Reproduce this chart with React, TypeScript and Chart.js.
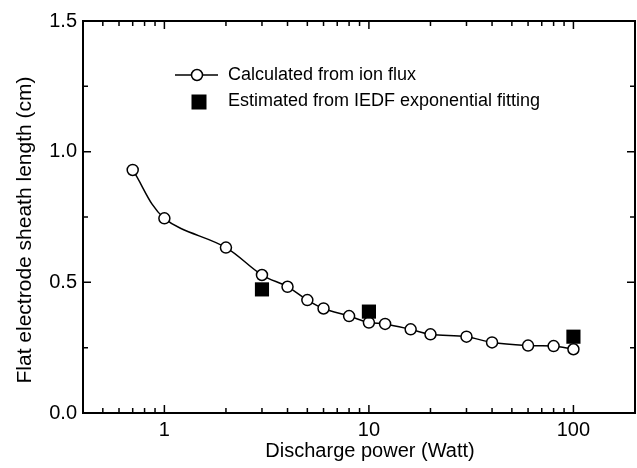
import { useEffect, useRef } from 'react';
import { Chart, registerables } from 'chart.js';

Chart.register(...registerables);

// ---- data ----
const power = [0.7, 1, 2, 3, 4, 5, 6, 8, 10, 12, 16, 20, 30, 40, 60, 80, 100];
const calculated = [0.93, 0.745, 0.633, 0.528, 0.483, 0.432, 0.4, 0.371, 0.346, 0.341, 0.32, 0.301, 0.292, 0.27, 0.258, 0.256, 0.244];
const estPower = [3, 10, 100];
const estimated = [0.473, 0.388, 0.292];

const xMajorTicks = [1, 10, 100];
const xMinorTicks = [0.5, 0.6, 0.7, 0.8, 0.9, 2, 3, 4, 5, 6, 7, 8, 9, 20, 30, 40, 50, 60, 70, 80, 90];
const yMajorTicks = [0.5, 1.0];
const yMinorTicks = [0.25, 0.75, 1.25];

const legendLabels = ['Calculated from ion flux', 'Estimated from IEDF exponential fitting'];
const xTitle = 'Discharge power (Watt)';
const yTitle = 'Flat electrode sheath length (cm)';

const FONT = '"Liberation Sans", Arial, Helvetica, sans-serif';

const framePlugin = {
  id: 'frameAndDecor',
  afterDraw(chart: any) {
    const { ctx, chartArea: a, scales } = chart;
    const xs = scales.x;
    const ys = scales.y;
    ctx.save();
    ctx.strokeStyle = '#000';
    ctx.fillStyle = '#000';

    // ticks
    ctx.lineWidth = 1.5;
    const drawX = (v: number, len: number) => {
      const px = xs.getPixelForValue(v);
      ctx.beginPath();
      ctx.moveTo(px, a.bottom);
      ctx.lineTo(px, a.bottom - len);
      ctx.moveTo(px, a.top);
      ctx.lineTo(px, a.top + len);
      ctx.stroke();
    };
    const drawY = (v: number, len: number) => {
      const py = ys.getPixelForValue(v);
      ctx.beginPath();
      ctx.moveTo(a.left, py);
      ctx.lineTo(a.left + len, py);
      ctx.moveTo(a.right, py);
      ctx.lineTo(a.right - len, py);
      ctx.stroke();
    };
    xMajorTicks.forEach((v) => drawX(v, 8));
    xMinorTicks.forEach((v) => drawX(v, 5));
    yMajorTicks.forEach((v) => drawY(v, 8));
    yMinorTicks.forEach((v) => drawY(v, 5));

    // frame
    ctx.lineWidth = 2;
    ctx.strokeRect(a.left, a.top, a.right - a.left, a.bottom - a.top);

    // axis titles
    ctx.textAlign = 'center';
    ctx.textBaseline = 'middle';
    ctx.font = `20px ${FONT}`;
    ctx.fillText(xTitle, 370, 451);
    ctx.save();
    ctx.translate(25, 230);
    ctx.rotate(-Math.PI / 2);
    ctx.font = `21px ${FONT}`;
    ctx.fillText(yTitle, 0, 0);
    ctx.restore();

    // legend
    ctx.lineWidth = 1.5;
    ctx.beginPath();
    ctx.moveTo(175, 75);
    ctx.lineTo(218, 75);
    ctx.stroke();
    ctx.beginPath();
    ctx.arc(197, 75, 5.5, 0, Math.PI * 2);
    ctx.fillStyle = '#fff';
    ctx.fill();
    ctx.stroke();
    ctx.fillStyle = '#000';
    ctx.fillRect(191.5, 94.5, 15, 15);
    ctx.textAlign = 'left';
    ctx.font = `18px ${FONT}`;
    ctx.fillText(legendLabels[0], 228, 75);
    ctx.fillText(legendLabels[1], 228, 101);

    ctx.restore();
  },
};

export default function App() {
  const canvasRef = useRef<HTMLCanvasElement | null>(null);

  useEffect(() => {
    const canvas = canvasRef.current;
    if (!canvas) return;
    const chart = new Chart(canvas, {
      type: 'scatter',
      data: {
        datasets: [
          {
            label: legendLabels[1],
            data: estPower.map((x, i) => ({ x, y: estimated[i] })),
            showLine: false,
            pointStyle: 'rect',
            pointRadius: 10,
            pointBackgroundColor: '#000',
            pointBorderColor: '#000',
            pointBorderWidth: 0,
          },
          {
            label: legendLabels[0],
            data: power.map((x, i) => ({ x, y: calculated[i] })),
            showLine: true,
            tension: 0.35,
            borderColor: '#000',
            borderWidth: 1.5,
            pointStyle: 'circle',
            pointRadius: 5.5,
            pointBackgroundColor: '#fff',
            pointBorderColor: '#000',
            pointBorderWidth: 1.5,
          },
        ],
      },
      options: {
        responsive: false,
        animation: false,
        layout: { autoPadding: false, padding: { left: 0, top: 21, right: 2, bottom: 0 } },
        plugins: {
          legend: { display: false },
          tooltip: { enabled: false },
        },
        scales: {
          x: {
            type: 'logarithmic',
            min: 0.4,
            max: 200,
            grid: { display: false, drawTicks: false },
            border: { display: false },
            afterFit: (s: any) => {
              s.height = 55;
              s.paddingLeft = 0;
              s.paddingRight = 0;
            },
            ticks: {
              autoSkip: false,
              maxRotation: 0,
              minRotation: 0,
              padding: 5,
              color: '#000',
              font: { family: FONT, size: 20 },
              callback: (value: any) => {
                const v = Number(value);
                const m = xMajorTicks.find((t) => Math.abs(t - v) < 1e-9 * t);
                return m !== undefined ? String(m) : '';
              },
            },
          },
          y: {
            type: 'linear',
            min: 0,
            max: 1.5,
            grid: { display: false, drawTicks: false },
            border: { display: false },
            afterFit: (s: any) => {
              s.width = 83;
            },
            ticks: {
              stepSize: 0.5,
              padding: 6,
              color: '#000',
              font: { family: FONT, size: 20 },
              callback: (value: any) => Number(value).toFixed(1),
            },
          },
        },
      },
      plugins: [framePlugin],
    } as any);
    return () => chart.destroy();
  }, []);

  return (
    <div style={{ position: 'fixed', left: 0, top: 0, width: 637, height: 468, background: '#fff' }}>
      <canvas ref={canvasRef} width={637} height={468} style={{ display: 'block' }} />
    </div>
  );
}
